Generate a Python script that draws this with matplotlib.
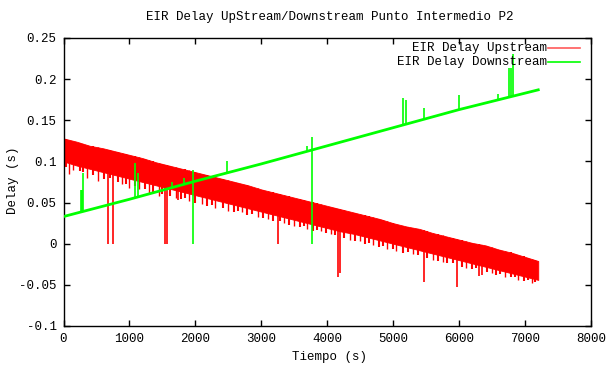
import numpy as np
import matplotlib
matplotlib.use("Agg")
import matplotlib.pyplot as plt

plt.rcParams["font.family"] = ["Liberation Mono", "DejaVu Sans Mono"]

# Upstream: band envelope (time in s, delay in s)
t_env = [0, 200, 400, 600, 800, 1000, 1200, 1400, 1600, 1800, 2000, 2200,
         2400, 2600, 2800, 3000, 3200, 3400, 3600, 3800, 4000, 4200, 4400,
         4600, 4800, 5000, 5200, 5400, 5600, 5800, 6000, 6200, 6400, 6600,
         6800, 7000, 7200]
up_top = [0.128, 0.124, 0.119, 0.116, 0.112, 0.108, 0.104, 0.099, 0.095,
          0.091, 0.087, 0.083, 0.079, 0.075, 0.071, 0.066, 0.062, 0.058,
          0.054, 0.050, 0.046, 0.042, 0.038, 0.034, 0.030, 0.025, 0.021,
          0.018, 0.013, 0.009, 0.005, 0.001, -0.002, -0.007, -0.011, -0.016,
          -0.021]
up_low = [0.100, 0.095, 0.091, 0.087, 0.083, 0.079, 0.075, 0.071, 0.067,
          0.063, 0.059, 0.055, 0.051, 0.047, 0.043, 0.039, 0.035, 0.031,
          0.027, 0.023, 0.019, 0.015, 0.012, 0.008, 0.004, 0.000, -0.004,
          -0.008, -0.012, -0.016, -0.020, -0.024, -0.028, -0.032, -0.036,
          -0.040, -0.044]

# dips under the band (deeper ones)
up_dip_t = [90, 150, 350, 520, 880, 1000, 1150, 1300, 1450, 1700, 1900, 2100,
            2300, 2500, 2700, 2950, 3100, 3350, 3500, 3700, 3900, 4050, 4350,
            4500, 4700, 4900, 5050, 5300, 5600, 5750, 6100, 6500, 6700, 6900,
            7100]
up_dip_v = [0.085, 0.090, 0.080, 0.076, 0.072, 0.068, 0.066, 0.062, 0.058,
            0.055, 0.052, 0.048, 0.044, 0.040, 0.038, 0.033, 0.030, 0.025,
            0.022, 0.018, 0.015, 0.012, 0.005, 0.003, -0.002, -0.006, -0.009,
            -0.013, -0.020, -0.022, -0.029, -0.036, -0.041, -0.044, -0.048]
# shallow ragged dips along the lower edge
up_rag_t = [40, 250, 300, 450, 620, 700, 820, 950, 1080, 1230, 1360, 1500,
            1620, 1780, 1840, 2000, 2180, 2250, 2420, 2580, 2640, 2780, 2860,
            3020, 3180, 3290, 3420, 3580, 3640, 3780, 3850, 3980, 4110, 4260,
            4420, 4580, 4640, 4780, 4850, 5000, 5150, 5230, 5380, 5520, 5680,
            5820, 5900, 6050, 6200, 6260, 6420, 6560, 6620, 6780, 6850, 6980,
            7050, 7150]
up_rag_v = [0.093, 0.088, 0.087, 0.083, 0.079, 0.080, 0.075, 0.072, 0.070,
            0.066, 0.063, 0.061, 0.058, 0.054, 0.055, 0.050, 0.046, 0.047,
            0.043, 0.039, 0.040, 0.035, 0.036, 0.031, 0.028, 0.027, 0.023,
            0.020, 0.021, 0.016, 0.017, 0.013, 0.010, 0.007, 0.003, 0.000,
            0.001, -0.004, -0.003, -0.007, -0.011, -0.010, -0.014, -0.017,
            -0.021, -0.024, -0.023, -0.028, -0.031, -0.030, -0.034, -0.038,
            -0.037, -0.041, -0.040, -0.045, -0.044, -0.047]

# large dips
up_spike_t = [679, 755, 1545, 1565, 1736, 3260, 4170, 4190, 5470, 5975,
              6300, 6340]
up_spike_v = [0.0, 0.0, 0.0, 0.0, 0.053, 0.0, -0.040, -0.035, -0.047,
              -0.052, -0.039, -0.038]

# Downstream
t_down = [0, 1000, 2000, 3000, 4000, 5000, 6000, 7200]
down = [0.033, 0.054, 0.076, 0.097, 0.119, 0.141, 0.163, 0.187]

down_spike_t = [270, 280, 300, 1084, 1134, 1640, 1827, 2483, 3686, 5150,
                5190, 5460, 6001, 6588, 6760, 6780, 6819]
down_spike_v = [0.065, 0.065, 0.086, 0.098, 0.086, 0.075, 0.080, 0.100,
                0.119, 0.177, 0.175, 0.165, 0.181, 0.182, 0.213, 0.213,
                0.2305]
# two samples that go all the way down to 0
down_drop_t = [1958, 3772]
down_drop_lo = [0.0, 0.0]
down_drop_hi = [0.090, 0.130]

RED = "#ff0000"
GREEN = "#00ff00"

fig = plt.figure(figsize=(6.09, 3.65), dpi=100)
ax = fig.add_axes([63.5 / 609, 1 - 326 / 365, 527.5 / 609, 288 / 365])

ax.fill_between(t_env, up_low, up_top, color=RED, lw=0.6, zorder=2)
ax.vlines(up_rag_t, up_rag_v, np.interp(up_rag_t, t_env, up_top),
          color=RED, lw=1.5, zorder=2)
ax.vlines(up_dip_t, up_dip_v, np.interp(up_dip_t, t_env, up_top),
          color=RED, lw=1.0, zorder=2)
ax.vlines(up_spike_t, up_spike_v, np.interp(up_spike_t, t_env, up_top),
          color=RED, lw=1.2, zorder=2)

ax.plot(t_down, down, color=GREEN, lw=2.0, zorder=3)
ax.vlines(down_spike_t, np.interp(down_spike_t, t_down, down), down_spike_v,
          color=GREEN, lw=1.2, zorder=3)
ax.vlines(down_drop_t, down_drop_lo, down_drop_hi, color=GREEN, lw=1.2,
          zorder=3)

ax.set_xlim(0, 8000)
ax.set_ylim(-0.1, 0.25)
ax.set_xticks(np.arange(0, 8001, 1000))
ax.set_yticks([-0.1, -0.05, 0, 0.05, 0.1, 0.15, 0.2, 0.25])
ax.set_yticklabels(["-0.1", "-0.05", "0", "0.05", "0.1", "0.15", "0.2", "0.25"])
ax.tick_params(direction="in", top=True, right=True, length=4, width=1,
               labelsize=9, pad=5)
for s in ax.spines.values():
    s.set_linewidth(1)

# legend, gnuplot style: text right-aligned, sample on its right
fs = 9
ax.text(0.9166, 0.965, "EIR Delay Upstream", transform=ax.transAxes,
        ha="right", va="center", fontsize=fs)
ax.plot([0.918, 0.979], [0.965, 0.965], transform=ax.transAxes,
        color="#ff5a5a", lw=1.2, clip_on=False)
ax.text(0.9166, 0.917, "EIR Delay Downstream", transform=ax.transAxes,
        ha="right", va="center", fontsize=fs)
ax.plot([0.918, 0.979], [0.917, 0.917], transform=ax.transAxes,
        color=GREEN, lw=1.2, clip_on=False)

fig.text(330 / 609, 1 - 17 / 365,
         "EIR Delay UpStream/Downstream Punto Intermedio P2",
         ha="center", va="center", fontsize=fs)
fig.text(330 / 609, 1 - 357 / 365, "Tiempo (s)", ha="center", va="center",
         fontsize=fs)
fig.text(13 / 609, 1 - 180 / 365, "Delay (s)", ha="center", va="center",
         rotation=90, fontsize=fs)

fig.savefig("out.png", dpi=100)
